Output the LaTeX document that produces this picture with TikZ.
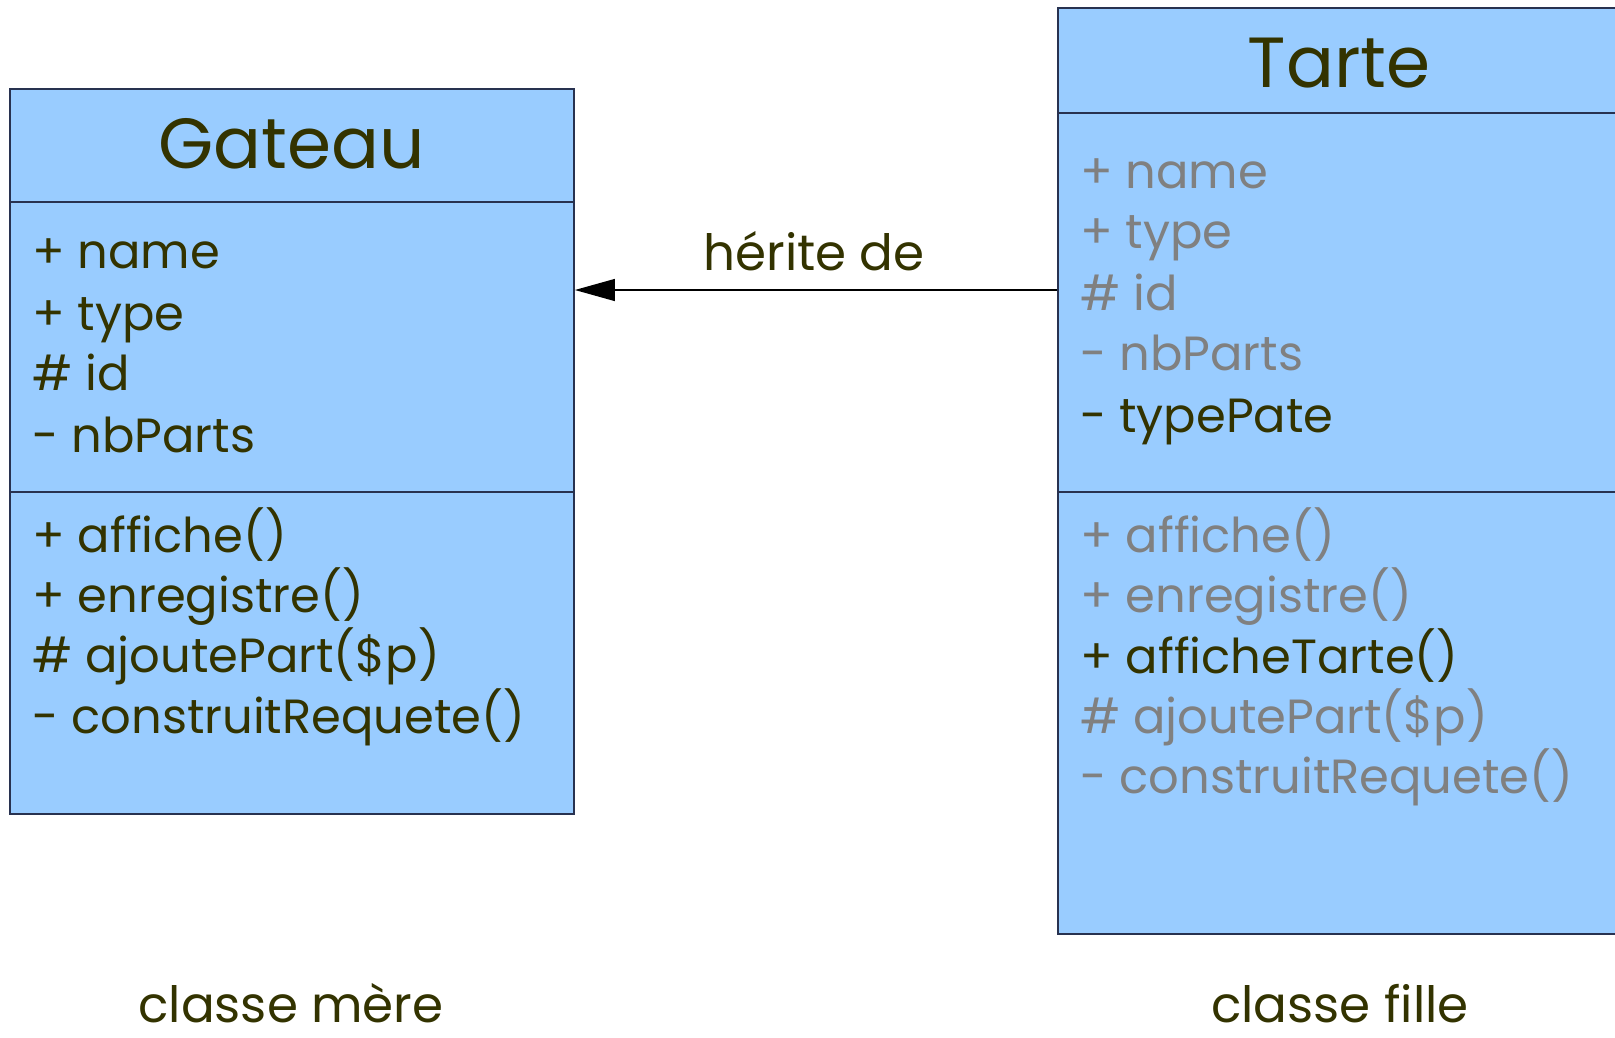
\documentclass[tikz,border=0pt]{standalone}
\usepackage{fontspec}
\setmainfont{Poppins}
\usetikzlibrary{arrows.meta}
\definecolor{boxfill}{RGB}{153,204,255}
\definecolor{boxline}{RGB}{40,50,80}
\definecolor{txtdark}{RGB}{51,51,0}
\definecolor{txtgray}{RGB}{128,128,128}
\tikzset{
  compart/.style={draw=boxline, fill=boxfill, line width=1.8pt, inner sep=0pt, minimum width=#1},
  title/.style={font=\fontsize{71}{85}\selectfont, text=txtdark, anchor=base, inner sep=0pt},
  member/.style={font=\fontsize{48}{58}\selectfont, text=txtdark, anchor=base west, inner sep=0pt},
  inherited/.style={member, text=txtgray},
  caption/.style={font=\fontsize{50}{60}\selectfont, text=txtdark, anchor=base, inner sep=0pt},
  inh/.style={draw=black, line width=1.3pt, -{Triangle[length=40pt,width=22pt]}}
}
\begin{document}
\begin{tikzpicture}[x=1pt,y=-1pt]
\useasboundingbox (0,0) rectangle (1615,1037);
\fill[white] (0,0) rectangle (1615,1037);
% Gateau
\node[compart=564pt, minimum height=113pt] (gT) at (292,145.5) {};
\node[compart=564pt, minimum height=290pt] (gA) at (292,347) {};
\node[compart=564pt, minimum height=322pt] (gM) at (292,653) {};
% Tarte
\node[compart=562pt, minimum height=105pt] (tT) at (1339,60.5) {};
\node[compart=562pt, minimum height=379pt] (tA) at (1339,302.5) {};
\node[compart=562pt, minimum height=442pt] (tM) at (1339,713) {};
% titles
\node[title] (gTitle) at (292,168) {Gateau};
\node[title] (tTitle) at (1339,87) {Tarte};
% Gateau members
\node[member] (g1) at (32,268) {+ name};
\node[member] (g2) at (32,330) {+ type};
\node[member] (g3) at (32,390) {\# id};
\node[member] (g4) at (32,452) {- nbParts};
\node[member] (g5) at (32,552) {+ affiche()};
\node[member] (g6) at (32,612) {+ enregistre()};
\node[member] (g7) at (32,672) {\# ajoutePart(\$p)};
\node[member] (g8) at (32,733) {- construitRequete()};
% Tarte members
\node[inherited] (t1) at (1080,188) {+ name};
\node[inherited] (t2) at (1080,248) {+ type};
\node[inherited] (t3) at (1080,310) {\# id};
\node[inherited] (t4) at (1080,370) {- nbParts};
\node[member] (t5) at (1080,432) {- typePate};
\node[inherited] (t6) at (1080,552) {+ affiche()};
\node[inherited] (t7) at (1080,612) {+ enregistre()};
\node[member] (t8) at (1080,673) {+ afficheTarte()};
\node[inherited] (t9) at (1080,733) {\# ajoutePart(\$p)};
\node[inherited] (t10) at (1080,793) {- construitRequete()};
% inheritance arrow
\coordinate (ay) at (0,290);
\draw[inh] (tA.west |- ay) -- (gA.east |- ay);
\node[caption] (lbl) at (814,270) {hérite de};
% captions
\node[caption] (cm) at (291,1022) {classe mère};
\node[caption] (cf) at (1340,1022) {classe fille};
\end{tikzpicture}
\end{document}
